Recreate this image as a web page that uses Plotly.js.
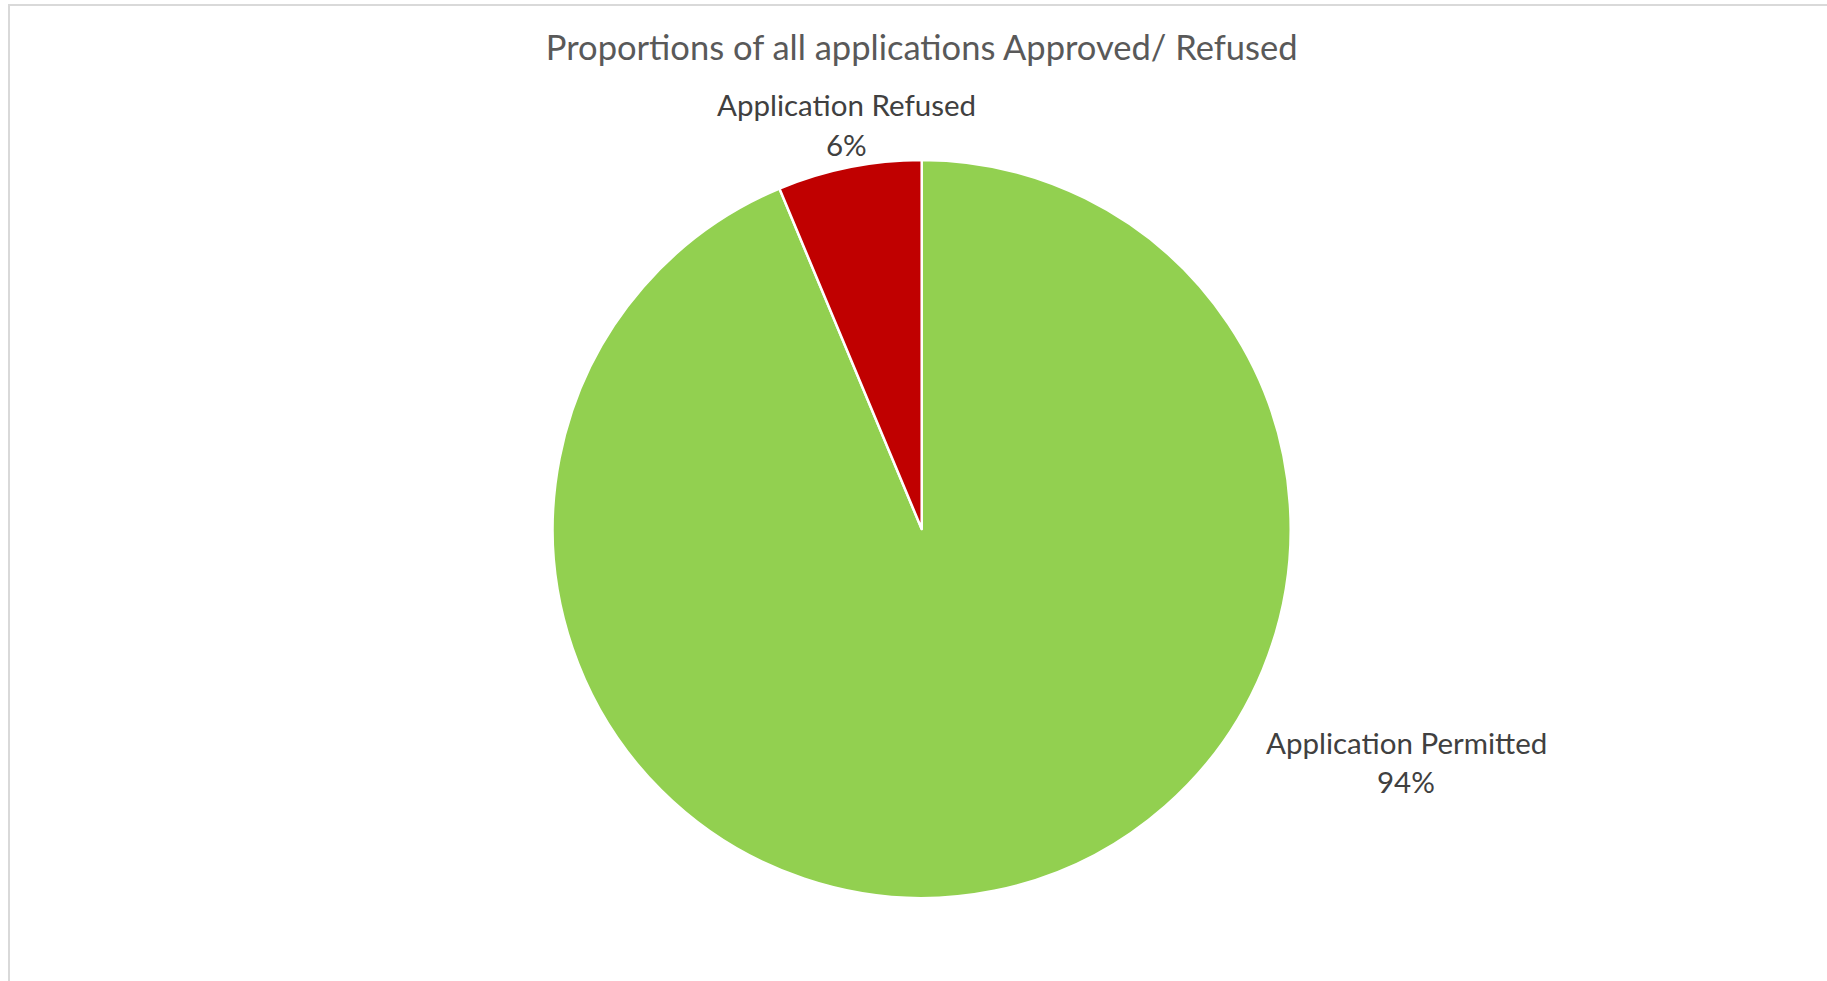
<!DOCTYPE html>
<html>
<head>
<meta charset="utf-8">
<script src="https://cdn.plot.ly/plotly-3.0.1.min.js"></script>
<style>
html, body { margin: 0; padding: 0; background: #ffffff; overflow: hidden; }
#frame { position: absolute; left: 8px; top: 4px; width: 1900px; height: 1100px;
  border-left: 2px solid #d9d9d9; border-top: 2px solid #d9d9d9; pointer-events: none; }
#chart { position: absolute; left: 0; top: 0; width: 1827px; height: 981px; }
</style>
</head>
<body>
<div id="chart"></div>
<div id="frame"></div>
<script>
const chartTitle = "Proportions of all applications Approved/ Refused";
const categories = ["Application Permitted", "Application Refused"];
const values = [93.7, 6.3];
const sliceColors = ["#92D050", "#C00000"];

const total = values.reduce((a, b) => a + b, 0);
const pct = values.map(v => Math.round(v / total * 100) + "%");

const W = 1827, H = 981;
const cx = 921.7, cy = 529, r = 369;
const labelPos = [
  { x: 1406, y1: 742, y2: 781 },
  { x: 846, y1: 105, y2: 144 }
];
const fontFamily = "Lato, 'Open Sans', sans-serif";

const annotations = [];
categories.forEach((c, i) => {
  annotations.push({ text: c, xref: "paper", yref: "paper", x: labelPos[i].x / W, y: 1 - labelPos[i].y1 / H,
    xanchor: "center", yanchor: "middle", showarrow: false, font: { family: fontFamily, size: 29.5, color: "#404040" } });
  annotations.push({ text: pct[i], xref: "paper", yref: "paper", x: labelPos[i].x / W, y: 1 - labelPos[i].y2 / H,
    xanchor: "center", yanchor: "middle", showarrow: false, font: { family: fontFamily, size: 29.5, color: "#404040" } });
});

const data = [{
  type: "pie",
  labels: categories,
  values: values,
  sort: false,
  direction: "clockwise",
  rotation: 0,
  textinfo: "none",
  hoverinfo: "label+percent",
  marker: { colors: sliceColors, line: { color: "#ffffff", width: 2.5 } },
  domain: { x: [(cx - r) / W, (cx + r) / W], y: [(H - cy - r) / H, (H - cy + r) / H] },
  showlegend: false
}];

const layout = {
  width: W, height: H,
  margin: { l: 0, r: 0, t: 0, b: 0 },
  paper_bgcolor: "#ffffff",
  title: { text: chartTitle, x: cx / W, xanchor: "center", xref: "paper", y: 1 - 48 / H, yanchor: "middle", yref: "container",
    font: { family: fontFamily, size: 34.5, color: "#595959" } },
  annotations: annotations,
  showlegend: false
};

Plotly.newPlot("chart", data, layout, { displayModeBar: false, staticPlot: true });
</script>
</body>
</html>
